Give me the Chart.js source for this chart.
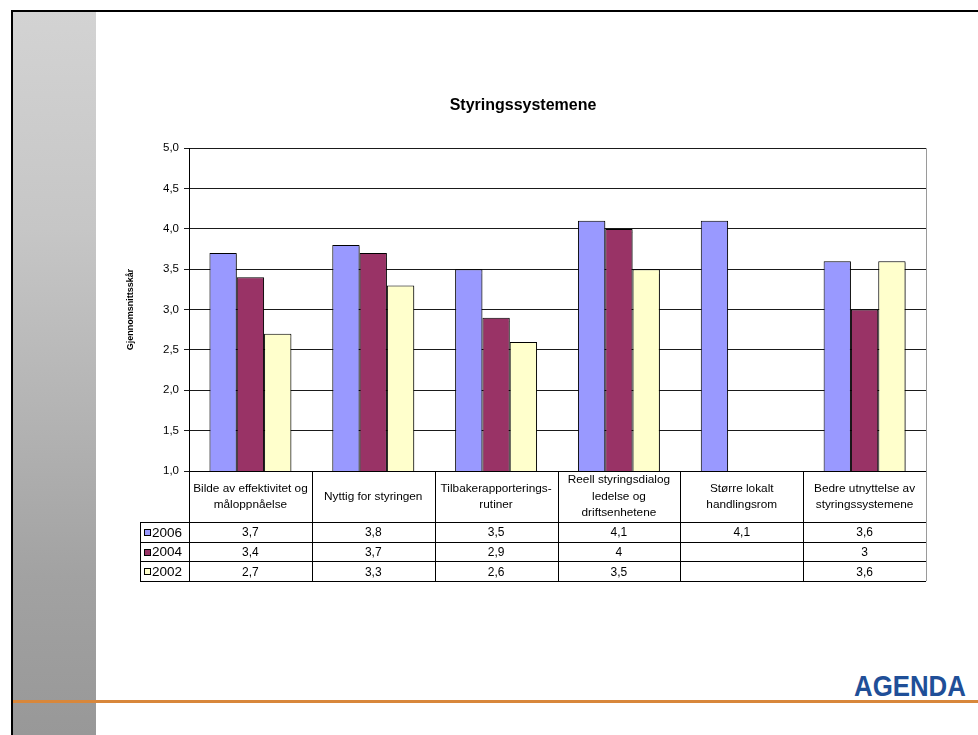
<!DOCTYPE html>
<html lang="no">
<head>
  <meta charset="UTF-8" />
  <title>Styringssystemene</title>
  <style>
    body {
      margin: 0;
      width: 978px;
      height: 735px;
      overflow: hidden;
      background: #fff;
      font-family: "Liberation Sans", Arial, Helvetica, sans-serif;
    }
    .frame-top {
      position: absolute;
      left: 11px; top: 10px;
      width: 967px; height: 2px;
      background: #000;
    }
    .frame-left {
      position: absolute;
      left: 11px; top: 10px;
      width: 2px; height: 725px;
      background: #000;
    }
    .side {
      position: absolute;
      left: 13px; top: 12px;
      width: 83px; height: 723px;
      background: linear-gradient(to bottom, #d3d3d3 0%, #c6c6c6 30%, #b4b4b4 55%, #a2a2a2 78%, #989898 100%);
    }
    .rule {
      position: absolute;
      left: 13px; top: 700px;
      width: 965px; height: 3px;
      background: #d8873b;
    }
    .logo {
      position: absolute;
      left: 854px; top: 671px;
      font-size: 30px;
      line-height: 30px;
      font-weight: bold;
      color: #1f4f98;
      transform: scaleX(0.86);
      transform-origin: left top;
    }
    #wrap {
      position: absolute;
      left: 0; top: 0;
      width: 978px; height: 735px;
    }
  </style>
</head>
<body>
  <div class="side"></div>
  <div class="frame-top"></div>
  <div class="frame-left"></div>
  <div class="rule"></div>
  <div class="logo">AGENDA</div>
  <div id="wrap"><canvas id="chart"></canvas></div>

  <script src="https://cdn.jsdelivr.net/npm/chart.js"></script>
  <script>
    const categories = [
      ['Bilde av effektivitet og', 'måloppnåelse'],
      ['Nyttig for styringen'],
      ['Tilbakerapporterings-', 'rutiner'],
      ['Reell styringsdialog', 'ledelse og', 'driftsenhetene'],
      ['Større lokalt', 'handlingsrom'],
      ['Bedre utnyttelse av', 'styringssystemene']
    ];
    const years = ['2006', '2004', '2002'];
    const values2006 = [3.7, 3.8, 3.5, 4.1, 4.1, 3.6];
    const values2004 = [3.4, 3.7, 2.9, 4, null, 3];
    const values2002 = [2.7, 3.3, 2.6, 3.5, null, 3.6];
    const yMin = 1, yMax = 5, yStep = 0.5;

    const colors = ['#9999ff', '#993366', '#ffffcc'];
    const FONT = '"Liberation Sans", Arial, Helvetica, sans-serif';

    const comma = v => String(v).replace('.', ',');

    // soft drop shadow behind the bars
    const barShadow = {
      id: 'barShadow',
      beforeDatasetsDraw(chart) {
        const ctx = chart.ctx;
        ctx.save();
        ctx.shadowColor = 'rgba(0,0,0,0.35)';
        ctx.shadowOffsetX = 1;
        ctx.shadowOffsetY = 1;
        ctx.shadowBlur = 1;
      },
      afterDatasetsDraw(chart) {
        chart.ctx.restore();
      }
    };

    // data table under the plot: category names, values and legend keys
    const dataTable = {
      id: 'dataTable',
      afterDraw(chart) {
        const ctx = chart.ctx;
        const area = chart.chartArea;
        const n = categories.length;
        const colW = (area.right - area.left) / n;
        const headH = 51;
        const rowH = 19.7;
        const top = area.bottom;
        const headBottom = top + headH;
        const bottom = headBottom + rowH * years.length;
        const keyLeft = area.left - 49;
        const px = v => Math.round(v) + 0.5;

        ctx.save();
        // plot frame on the right
        ctx.strokeStyle = '#9a9a9a';
        ctx.lineWidth = 1;
        ctx.beginPath();
        ctx.moveTo(px(area.right), area.top);
        ctx.lineTo(px(area.right), bottom);
        ctx.stroke();

        ctx.strokeStyle = '#000';
        ctx.beginPath();
        // column separators
        for (let i = 0; i < n; i++) {
          const x = px(area.left + i * colW);
          ctx.moveTo(x, top);
          ctx.lineTo(x, bottom);
        }
        // row lines
        ctx.moveTo(area.left, px(top));
        ctx.lineTo(area.right, px(top));
        for (let r = 0; r <= years.length; r++) {
          const y = px(headBottom + r * rowH);
          ctx.moveTo(keyLeft, y);
          ctx.lineTo(area.right, y);
        }
        ctx.moveTo(px(keyLeft), headBottom);
        ctx.lineTo(px(keyLeft), bottom);
        ctx.stroke();

        ctx.fillStyle = '#000';
        ctx.textAlign = 'center';
        ctx.textBaseline = 'middle';

        // category names
        ctx.font = '11.8px ' + FONT;
        const lineH = 16.5;
        categories.forEach((lines, i) => {
          const cx = area.left + (i + 0.5) * colW;
          const y0 = top + headH / 2 - (lines.length - 1) * lineH / 2;
          lines.forEach((t, k) => ctx.fillText(t, cx, y0 + k * lineH));
        });

        // values
        ctx.font = '12px ' + FONT;
        chart.data.datasets.forEach((ds, r) => {
          const cy = headBottom + (r + 0.5) * rowH;
          ds.data.forEach((v, i) => {
            if (v === null) return;
            ctx.fillText(comma(v), area.left + (i + 0.5) * colW, cy + 1);
          });
        });

        // legend keys
        ctx.textAlign = 'left';
        ctx.font = '13.5px ' + FONT;
        chart.data.datasets.forEach((ds, r) => {
          const cy = headBottom + (r + 0.5) * rowH;
          ctx.fillStyle = ds.backgroundColor;
          ctx.fillRect(keyLeft + 4, Math.round(cy - 3), 7, 7);
          ctx.strokeStyle = '#000';
          ctx.strokeRect(keyLeft + 4.5, Math.round(cy - 3) + 0.5, 6, 6);
          ctx.fillStyle = '#000';
          ctx.fillText(ds.label, keyLeft + 12, cy + 1);
        });
        ctx.restore();
      }
    };

    const ctx = document.getElementById('chart').getContext('2d');
    new Chart(ctx, {
      type: 'bar',
      data: {
        labels: categories,
        datasets: [
          { label: years[0], data: values2006, backgroundColor: colors[0] },
          { label: years[1], data: values2004, backgroundColor: colors[1] },
          { label: years[2], data: values2002, backgroundColor: colors[2] }
        ].map(ds => Object.assign(ds, {
          borderColor: '#000',
          borderWidth: 1,
          barPercentage: 1,
          categoryPercentage: 0.667
        }))
      },
      options: {
        responsive: true,
        maintainAspectRatio: false,
        animation: false,
        devicePixelRatio: 1,
        layout: {
          padding: { left: 120, right: 52, top: 96, bottom: 264 }
        },
        plugins: {
          legend: { display: false },
          tooltip: { enabled: false },
          title: {
            display: true,
            text: 'Styringssystemene',
            color: '#000',
            font: { family: FONT, size: 16, weight: 'bold', lineHeight: 1.2 },
            padding: { top: 0, bottom: 33 }
          }
        },
        scales: {
          x: {
            display: false
          },
          y: {
            min: yMin,
            max: yMax,
            afterFit(scale) { scale.width = 69; },
            ticks: {
              stepSize: yStep,
              color: '#000',
              padding: 5,
              font: { family: FONT, size: 11.5 },
              callback: v => v.toFixed(1).replace('.', ',')
            },
            grid: {
              color: '#1a1a1a',
              lineWidth: 1,
              tickLength: 5,
              drawTicks: true
            },
            border: { display: true, color: '#000', width: 1 },
            title: {
              display: true,
              text: 'Gjennomsnittsskår',
              color: '#000',
              font: { family: FONT, size: 9, weight: 'bold' },
              padding: { top: 5, bottom: 0 }
            }
          }
        }
      },
      plugins: [barShadow, dataTable]
    });
  </script>
</body>
</html>
